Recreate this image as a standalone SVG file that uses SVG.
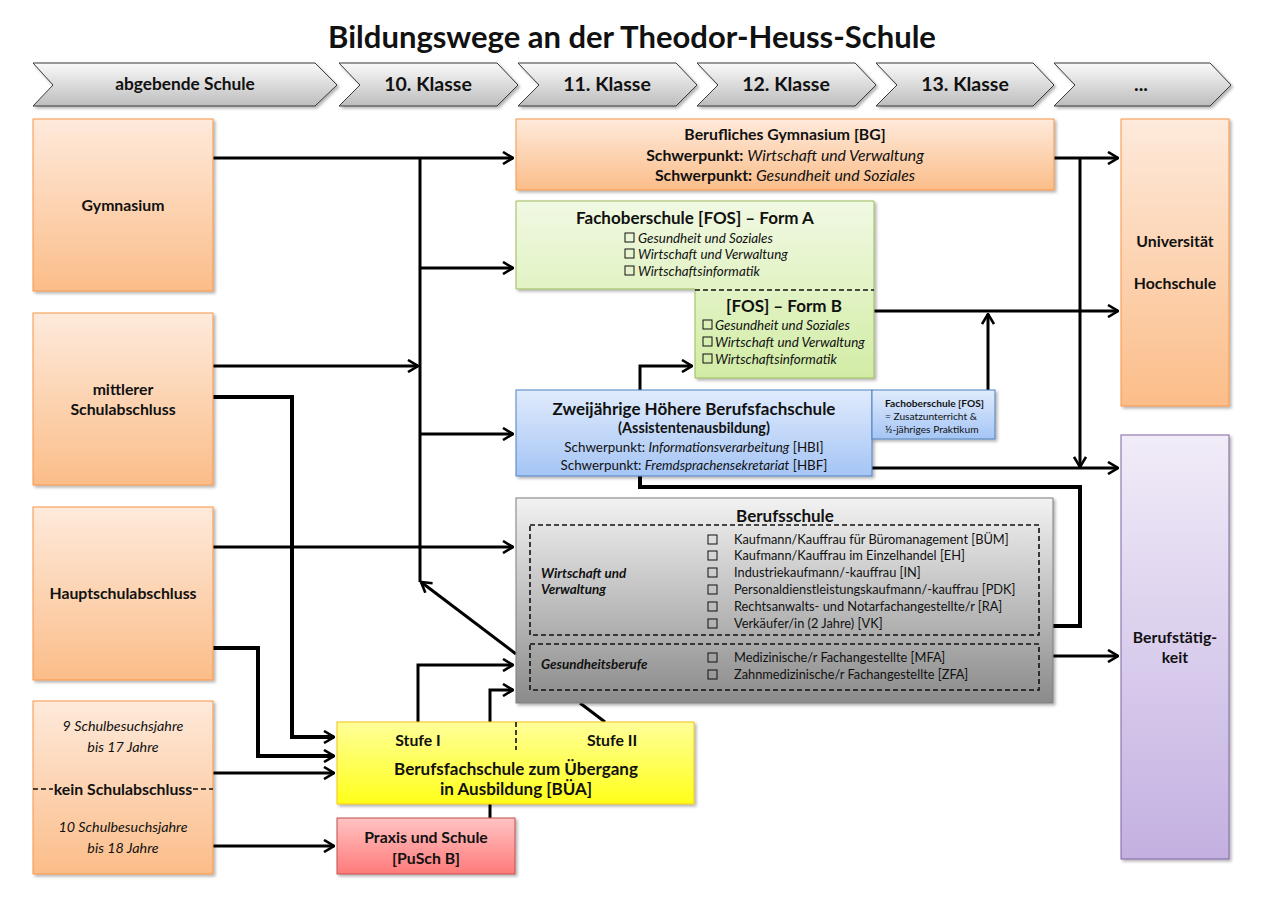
<svg xmlns="http://www.w3.org/2000/svg" width="1263" height="902" viewBox="0 0 1263 902">
<defs>
<linearGradient id="gOr" x1="0" y1="0" x2="0" y2="1"><stop offset="0" stop-color="#feeadb"/><stop offset="1" stop-color="#fbbd89"/></linearGradient>
<linearGradient id="gGr" x1="0" y1="0" x2="0" y2="1"><stop offset="0" stop-color="#f1f9e3"/><stop offset="1" stop-color="#d2eca5"/></linearGradient>
<linearGradient id="gBl" x1="0" y1="0" x2="0" y2="1"><stop offset="0" stop-color="#e0ebfc"/><stop offset="1" stop-color="#a5c5f5"/></linearGradient>
<linearGradient id="gGy" x1="0" y1="0" x2="0" y2="1"><stop offset="0" stop-color="#f2f2f2"/><stop offset="1" stop-color="#8b8b8b"/></linearGradient>
<linearGradient id="gPu" x1="0" y1="0" x2="0" y2="1"><stop offset="0" stop-color="#f1ecf8"/><stop offset="1" stop-color="#c3b0e1"/></linearGradient>
<linearGradient id="gYe" x1="0" y1="0" x2="0" y2="1"><stop offset="0" stop-color="#ffff99"/><stop offset="1" stop-color="#ffff1a"/></linearGradient>
<linearGradient id="gRe" x1="0" y1="0" x2="0" y2="1"><stop offset="0" stop-color="#ffc3c3"/><stop offset="1" stop-color="#ff7a7a"/></linearGradient>
<linearGradient id="gCh" x1="0" y1="0" x2="0" y2="1"><stop offset="0" stop-color="#fafafa"/><stop offset="1" stop-color="#bdbdbd"/></linearGradient>
<filter id="sh" x="-10%" y="-10%" width="120%" height="120%"><feDropShadow dx="2" dy="2" stdDeviation="1.5" flood-color="#000" flood-opacity="0.3"/></filter>
<marker id="ar" viewBox="0 0 12 14" refX="11" refY="7" markerWidth="12" markerHeight="14" markerUnits="userSpaceOnUse" orient="auto"><path d="M1,1 L11,7 L1,13" fill="none" stroke="#000" stroke-width="2.6"/></marker>
</defs>
<style>
text{font-family:Lato,"Open Sans","Liberation Sans",sans-serif;fill:#111;}
.t{font-size:31px;font-weight:bold;text-anchor:middle;}
.ch{font-size:19.5px;font-weight:bold;text-anchor:middle;}
.ab{font-size:17.3px;font-weight:bold;text-anchor:middle;}
.b14{font-size:15.8px;font-weight:bold;text-anchor:middle;}
.b15{font-size:17px;font-weight:bold;text-anchor:middle;}
.b13{font-size:14.4px;font-weight:bold;text-anchor:middle;}
.i13{font-size:14.3px;font-style:italic;text-anchor:middle;}
.it{font-size:13.4px;font-style:italic;}
.n12{font-size:13.4px;}
.n13{font-size:12.8px;}
.n9{font-size:10.2px;}
.c{fill:none;stroke:#000;stroke-width:3;}
.c4{fill:none;stroke:#000;stroke-width:4;}
.cb{fill:none;stroke:#111;stroke-width:1;}
.dash{fill:none;stroke:#111;stroke-width:1.6;stroke-dasharray:5,3;}
.chev{fill:url(#gCh);stroke:#3a3a3a;stroke-width:1;filter:url(#sh);}
</style>
<rect width="1263" height="902" fill="#fff"/>
<text class="t" x="632" y="48">Bildungswege an der Theodor-Heuss-Schule</text>

<g id="header">
<path class="chev" d="M33,63 L315,63 L337,85 L315,106 L33,106 L53,85 Z"/>
<path class="chev" d="M339,63 L497,63 L518,85 L497,106 L339,106 L360,85 Z"/>
<path class="chev" d="M518,63 L676,63 L697,85 L676,106 L518,106 L539,85 Z"/>
<path class="chev" d="M697,63 L855,63 L876,85 L855,106 L697,106 L718,85 Z"/>
<path class="chev" d="M876,63 L1033,63 L1054,85 L1033,106 L876,106 L897,85 Z"/>
<path class="chev" d="M1054,63 L1210,63 L1231,85 L1210,106 L1054,106 L1075,85 Z"/>
<text class="ab" x="185" y="90">abgebende Schule</text>
<text class="ch" x="428" y="91">10. Klasse</text>
<text class="ch" x="607" y="91">11. Klasse</text>
<text class="ch" x="786" y="91">12. Klasse</text>
<text class="ch" x="965" y="91">13. Klasse</text>
<text class="ch" x="1141" y="91">...</text>
</g>

<g id="connectors">
<path class="c" d="M213,158 H513" marker-end="url(#ar)"/>
<path class="c" d="M420,158 V582"/>
<path class="c" d="M420,268 H513" marker-end="url(#ar)"/>
<path class="c" d="M420,434 H513" marker-end="url(#ar)"/>
<path class="c" d="M213,366 H418" marker-end="url(#ar)"/>
<path class="c4" d="M213,397 H292 V737 H334" marker-end="url(#ar)"/>
<path class="c" d="M213,547 H513" marker-end="url(#ar)"/>
<path class="c4" d="M213,648 H258 V756 H334" marker-end="url(#ar)"/>
<path class="c" d="M213,773 H334" marker-end="url(#ar)"/>
<path class="c" d="M213,846 H334" marker-end="url(#ar)"/>
<path class="c" d="M516,654 L421,582" marker-end="url(#ar)"/>
<path class="c" d="M418,722 V665 H513" marker-end="url(#ar)"/>
<path class="c" d="M490,818 V690 H513" marker-end="url(#ar)"/>
<path class="c" d="M605,722 L580,703"/>
<path class="c" d="M640,390 V366 H692" marker-end="url(#ar)"/>
<path class="c4" d="M640,476 V487 H1080 V626 H1053"/>
<path class="c" d="M1054,158 H1118" marker-end="url(#ar)"/>
<path class="c" d="M1080,158 V467" marker-end="url(#ar)"/>
<path class="c" d="M874,311 H1118" marker-end="url(#ar)"/>
<path class="c" d="M988,390 V314" marker-end="url(#ar)"/>
<path class="c" d="M872,468 H1118" marker-end="url(#ar)"/>
<path class="c" d="M1053,656 H1118" marker-end="url(#ar)"/>
</g>

<g id="gymnasium">
<rect x="33" y="119" width="180" height="172" fill="url(#gOr)" stroke="#f79646" filter="url(#sh)"/>
<text class="b14" x="123" y="211">Gymnasium</text>
</g>
<g id="mittlerer">
<rect x="33" y="313" width="180" height="172" fill="url(#gOr)" stroke="#f79646" filter="url(#sh)"/>
<text class="b14" x="123" y="395">mittlerer</text>
<text class="b14" x="123" y="415">Schulabschluss</text>
</g>
<g id="hauptschul">
<rect x="33" y="507" width="180" height="173" fill="url(#gOr)" stroke="#f79646" filter="url(#sh)"/>
<text class="b14" x="123" y="599">Hauptschulabschluss</text>
</g>
<g id="kein">
<rect x="33" y="701" width="180" height="173" fill="url(#gOr)" stroke="#f79646" filter="url(#sh)"/>
<text class="i13" x="123" y="731">9 Schulbesuchsjahre</text>
<text class="i13" x="123" y="752">bis 17 Jahre</text>
<path class="dash" d="M33,789 H53 M193,789 H213" stroke-dasharray="4,3"/>
<text class="b14" x="123" y="795">kein Schulabschluss</text>
<text class="i13" x="123" y="832">10 Schulbesuchsjahre</text>
<text class="i13" x="123" y="853">bis 18 Jahre</text>
</g>

<g id="bg">
<rect x="516" y="119" width="538" height="71" fill="url(#gOr)" stroke="#f79646" filter="url(#sh)"/>
<text class="b14" x="785" y="140">Berufliches Gymnasium [BG]</text>
<text class="b14" x="785" y="161">Schwerpunkt: <tspan font-weight="normal" font-style="italic">Wirtschaft und Verwaltung</tspan></text>
<text class="b14" x="785" y="181">Schwerpunkt: <tspan font-weight="normal" font-style="italic">Gesundheit und Soziales</tspan></text>
</g>

<g id="fos">
<path d="M516,201 H874 V378 H695 V289 H516 Z" fill="url(#gGr)" stroke="#9bbb59" filter="url(#sh)"/>
<path class="dash" d="M695,290 H874" stroke-width="2"/>
<text class="b15" x="695" y="224">Fachoberschule [FOS] – Form A</text>
<rect class="cb" x="625" y="233" width="9" height="9"/>
<rect class="cb" x="625" y="249" width="9" height="9"/>
<rect class="cb" x="625" y="266" width="9" height="9"/>
<text class="it" x="638" y="243">Gesundheit und Soziales</text>
<text class="it" x="638" y="259">Wirtschaft und Verwaltung</text>
<text class="it" x="638" y="276">Wirtschaftsinformatik</text>
<text class="b15" x="784" y="312">[FOS] – Form B</text>
<rect class="cb" x="703" y="320" width="9" height="9"/>
<rect class="cb" x="703" y="337" width="9" height="9"/>
<rect class="cb" x="703" y="354" width="9" height="9"/>
<text class="it" x="715" y="330">Gesundheit und Soziales</text>
<text class="it" x="715" y="347">Wirtschaft und Verwaltung</text>
<text class="it" x="715" y="364">Wirtschaftsinformatik</text>
</g>

<g id="hbf">
<rect x="516" y="390" width="356" height="86" fill="url(#gBl)" stroke="#4f81bd" filter="url(#sh)"/>
<text class="b15" x="694" y="415">Zweijährige Höhere Berufsfachschule</text>
<text class="b13" x="694" y="433">(Assistentenausbildung)</text>
<text class="n12" x="694" y="452" text-anchor="middle">Schwerpunkt: <tspan font-style="italic">Informationsverarbeitung</tspan> [HBI]</text>
<text class="n12" x="694" y="470" text-anchor="middle">Schwerpunkt: <tspan font-style="italic">Fremdsprachensekretariat</tspan> [HBF]</text>
</g>

<g id="fosnote">
<rect x="872" y="390" width="123" height="49" fill="url(#gBl)" stroke="#4f81bd" filter="url(#sh)"/>
<text class="n9" x="885" y="407" font-weight="bold">Fachoberschule [FOS]</text>
<text class="n9" x="885" y="420">= Zusatzunterricht &amp;</text>
<text class="n9" x="885" y="433">½-jähriges Praktikum</text>
</g>

<g id="berufsschule">
<rect x="516" y="498" width="537" height="205" fill="url(#gGy)" stroke="#7f7f7f" filter="url(#sh)"/>
<text class="b15" x="785" y="522">Berufsschule</text>
<rect class="dash" x="530" y="525" width="509" height="110"/>
<rect class="dash" x="530" y="644" width="509" height="46"/>
<text class="it" x="541" y="578" font-weight="bold">Wirtschaft und</text>
<text class="it" x="541" y="594" font-weight="bold">Verwaltung</text>
<text class="it" x="541" y="669" font-weight="bold">Gesundheitsberufe</text>
<rect class="cb" x="708" y="535" width="9" height="9"/>
<rect class="cb" x="708" y="551" width="9" height="9"/>
<rect class="cb" x="708" y="568" width="9" height="9"/>
<rect class="cb" x="708" y="585" width="9" height="9"/>
<rect class="cb" x="708" y="602" width="9" height="9"/>
<rect class="cb" x="708" y="619" width="9" height="9"/>
<rect class="cb" x="708" y="653" width="9" height="9"/>
<rect class="cb" x="708" y="670" width="9" height="9"/>
<text class="n13" x="734" y="544">Kaufmann/Kauffrau für Büromanagement [BÜM]</text>
<text class="n13" x="734" y="560">Kaufmann/Kauffrau im Einzelhandel [EH]</text>
<text class="n13" x="734" y="577">Industriekaufmann/-kauffrau [IN]</text>
<text class="n13" x="734" y="594">Personaldienstleistungskaufmann/-kauffrau [PDK]</text>
<text class="n13" x="734" y="611">Rechtsanwalts- und Notarfachangestellte/r [RA]</text>
<text class="n13" x="734" y="628">Verkäufer/in (2 Jahre) [VK]</text>
<text class="n13" x="734" y="662">Medizinische/r Fachangestellte [MFA]</text>
<text class="n13" x="734" y="679">Zahnmedizinische/r Fachangestellte [ZFA]</text>
</g>

<g id="universitaet">
<rect x="1121" y="119" width="108" height="287" fill="url(#gOr)" stroke="#f79646" filter="url(#sh)"/>
<text class="b14" x="1175" y="247">Universität</text>
<text class="b14" x="1175" y="289">Hochschule</text>
</g>
<g id="beruf">
<rect x="1121" y="435" width="108" height="424" fill="url(#gPu)" stroke="#8064a2" filter="url(#sh)"/>
<text class="b14" x="1175" y="643">Berufstätig-</text>
<text class="b14" x="1175" y="663">keit</text>
</g>

<g id="bua">
<rect x="337" y="722" width="357" height="82" fill="url(#gYe)" stroke="#f0c419" filter="url(#sh)"/>
<path class="dash" d="M516,722 V750" stroke-width="2"/>
<text class="b14" x="418" y="746">Stufe I</text>
<text class="b14" x="612" y="746">Stufe II</text>
<text class="b15" x="516" y="775">Berufsfachschule zum Übergang</text>
<text class="b15" x="516" y="795">in Ausbildung [BÜA]</text>
</g>
<g id="pusch">
<rect x="337" y="818" width="178" height="56" fill="url(#gRe)" stroke="#c0504d" filter="url(#sh)"/>
<text class="b14" x="426" y="843">Praxis und Schule</text>
<text class="b14" x="426" y="864">[PuSch B]</text>
</g>
</svg>
